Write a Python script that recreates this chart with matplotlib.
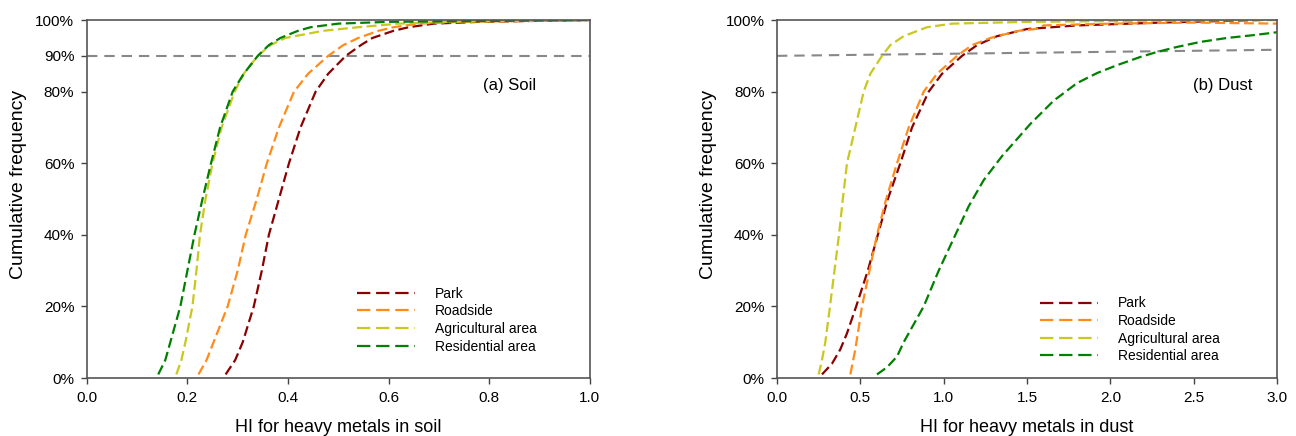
import matplotlib
matplotlib.use("Agg")
import matplotlib.pyplot as plt
from matplotlib.ticker import PercentFormatter
from matplotlib.lines import Line2D

plt.rcParams['font.family'] = ['Liberation Sans', 'DejaVu Sans']

# series names and colours
names = ["Park", "Roadside", "Agricultural area", "Residential area"]
colors = ["#8B0000", "#FF8C1A", "#C8C81E", "#008000"]

# (a) soil - HI values, with cumulative fraction
soil_park_x = [0.276, 0.295, 0.310, 0.332, 0.348, 0.362, 0.382, 0.402, 0.425, 0.455, 0.480, 0.515, 0.545, 0.568, 0.610, 0.640, 0.690, 0.780, 1.0]
soil_road_x = [0.222, 0.238, 0.252, 0.280, 0.300, 0.316, 0.338, 0.358, 0.382, 0.412, 0.440, 0.480, 0.510, 0.540, 0.580, 0.610, 0.660, 0.740, 1.0]
soil_agri_x = [0.178, 0.188, 0.196, 0.210, 0.218, 0.225, 0.236, 0.250, 0.268, 0.294, 0.312, 0.340, 0.365, 0.395, 0.470, 0.540, 0.620, 0.720, 1.0]
soil_resi_x = [0.142, 0.156, 0.166, 0.186, 0.200, 0.214, 0.230, 0.247, 0.265, 0.290, 0.312, 0.340, 0.362, 0.385, 0.420, 0.445, 0.500, 0.600, 1.0]
soil_y = [0.01, 0.05, 0.10, 0.20, 0.30, 0.40, 0.50, 0.60, 0.70, 0.80, 0.85, 0.90, 0.93, 0.95, 0.97, 0.98, 0.99, 0.995, 1.0]

# (b) dust
dust_park_x = [0.27, 0.33, 0.38, 0.42, 0.475, 0.545, 0.605, 0.665, 0.74, 0.81, 0.91, 0.99, 1.11, 1.20, 1.32, 1.50, 1.80, 2.30, 2.90]
dust_park_y = [0.01, 0.04, 0.08, 0.125, 0.20, 0.30, 0.40, 0.50, 0.60, 0.70, 0.80, 0.85, 0.90, 0.93, 0.955, 0.975, 0.985, 0.993, 1.0]
dust_road_x = [0.44, 0.47, 0.49, 0.51, 0.555, 0.60, 0.655, 0.72, 0.79, 0.88, 0.96, 1.08, 1.17, 1.28, 1.45, 1.55, 1.60, 2.00, 2.50, 3.0]
dust_road_y = [0.01, 0.08, 0.14, 0.20, 0.30, 0.40, 0.50, 0.60, 0.70, 0.80, 0.85, 0.90, 0.93, 0.95, 0.97, 0.975, 0.985, 0.99, 0.993, 0.99]
dust_agri_x = [0.25, 0.27, 0.29, 0.318, 0.345, 0.372, 0.395, 0.42, 0.47, 0.52, 0.56, 0.63, 0.68, 0.76, 0.90, 1.05, 1.50, 2.20, 3.0]
dust_agri_y = [0.01, 0.05, 0.10, 0.20, 0.30, 0.40, 0.50, 0.60, 0.70, 0.80, 0.85, 0.90, 0.93, 0.955, 0.98, 0.99, 0.995, 0.998, 1.0]
dust_resi_x = [0.60, 0.66, 0.72, 0.76, 0.82, 0.88, 0.97, 1.07, 1.15, 1.24, 1.35, 1.52, 1.66, 1.80, 1.92, 2.04, 2.18, 2.28, 2.40, 2.54, 2.70, 2.86, 3.0]
dust_resi_y = [0.01, 0.03, 0.06, 0.10, 0.15, 0.20, 0.30, 0.40, 0.48, 0.553, 0.62, 0.71, 0.775, 0.824, 0.852, 0.874, 0.897, 0.911, 0.925, 0.939, 0.95, 0.958, 0.966]

# 90% reference lines
ref_soil_x, ref_soil_y = [0, 1.0], [0.90, 0.90]
ref_dust_x, ref_dust_y = [0, 3.0], [0.90, 0.917]

soil_ticks = [0, 0.2, 0.4, 0.6, 0.8, 0.9, 1.0]
dust_ticks = [0, 0.2, 0.4, 0.6, 0.8, 1.0]

fig = plt.figure(figsize=(12.96, 4.36), dpi=100)
ax1 = fig.add_axes([0.067, 0.133, 0.388, 0.821])
ax2 = fig.add_axes([0.5995, 0.133, 0.386, 0.821])

dash = (4.5, 2.0)
handles = [Line2D([], [], color=c, lw=1.6, dashes=(6.0, 2.6)) for c in colors]


def style(ax, xlim, xticks, yticks, xlabel):
    ax.set_xlim(*xlim)
    ax.set_ylim(0, 1)
    ax.set_xticks(xticks)
    ax.set_yticks(yticks)
    ax.yaxis.set_major_formatter(PercentFormatter(1.0, decimals=0))
    ax.tick_params(direction='out', length=4, width=1, labelsize=11, pad=5, color='#444444')
    for s in ax.spines.values():
        s.set_color('#555555')
        s.set_linewidth(1.2)
    ax.set_xlabel(xlabel, fontsize=13, labelpad=10.5)
    ax.set_ylabel("Cumulative frequency", fontsize=14, labelpad=6)
    ax.yaxis.label.set_y(0.54)


# soil panel
ax1.plot(ref_soil_x, ref_soil_y, color='#888888', lw=1.5, dashes=(5.0, 3.3))
for xs, c, n in zip([soil_park_x, soil_road_x, soil_agri_x, soil_resi_x], colors, names):
    ax1.plot(xs, soil_y, color=c, lw=1.6, dashes=dash, label=n)
style(ax1, (0, 1.0), [0, 0.2, 0.4, 0.6, 0.8, 1.0], soil_ticks, "HI for heavy metals in soil")
ax1.set_xticklabels(["0.0", "0.2", "0.4", "0.6", "0.8", "1.0"])
ax1.text(0.84, 0.818, "(a) Soil", fontsize=12, ha='center', va='center')
ax1.legend(handles, names, loc='upper left', bbox_to_anchor=(0.537, 0.255), frameon=False, fontsize=10,
           handlelength=4.2, handletextpad=1.4, labelspacing=0.26, borderpad=0, borderaxespad=0)

# dust panel
ax2.plot(ref_dust_x, ref_dust_y, color='#888888', lw=1.5, dashes=(5.0, 3.3))
for xs, ys, c, n in zip([dust_park_x, dust_road_x, dust_agri_x, dust_resi_x],
                        [dust_park_y, dust_road_y, dust_agri_y, dust_resi_y], colors, names):
    ax2.plot(xs, ys, color=c, lw=1.6, dashes=dash, label=n)
style(ax2, (0, 3.0), [0, 0.5, 1.0, 1.5, 2.0, 2.5, 3.0], dust_ticks, "HI for heavy metals in dust")
ax2.set_xticklabels(["0.0", "0.5", "1.0", "1.5", "2.0", "2.5", "3.0"])
ax2.text(2.675, 0.818, "(b) Dust", fontsize=12, ha='center', va='center')
ax2.legend(handles, names, loc='upper left', bbox_to_anchor=(0.526, 0.228), frameon=False, fontsize=10,
           handlelength=4.2, handletextpad=1.4, labelspacing=0.26, borderpad=0, borderaxespad=0)

fig.savefig("out.png", dpi=100)
